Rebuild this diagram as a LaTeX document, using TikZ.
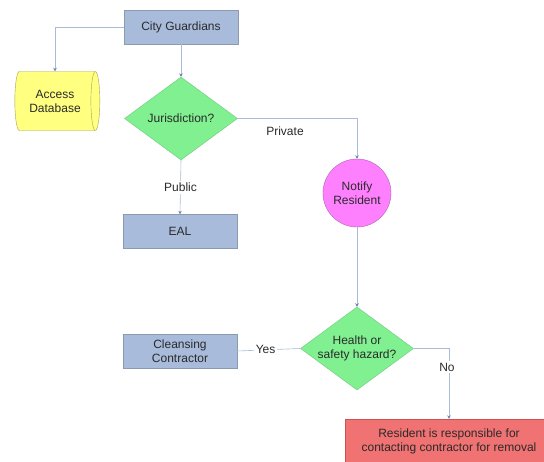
\documentclass[tikz,border=0pt]{standalone}
\usepackage{fontspec}
\setmainfont{Liberation Sans}
\usetikzlibrary{shapes.geometric,arrows.meta}
\definecolor{boxblue}{HTML}{A8BBDB}
\definecolor{boxblueline}{HTML}{8C9AAE}
\definecolor{dbyellow}{HTML}{FFFF80}
\definecolor{dbline}{HTML}{A8A060}
\definecolor{decgreen}{HTML}{80F090}
\definecolor{decline}{HTML}{70C880}
\definecolor{notifyfill}{HTML}{FF80FF}
\definecolor{notifyline}{HTML}{B060B0}
\definecolor{redfill}{HTML}{F07272}
\definecolor{redline}{HTML}{D05050}
\definecolor{conn}{HTML}{A8BCD8}
\definecolor{tipc}{HTML}{6A82B0}
\definecolor{txt}{HTML}{2A2A2A}
\tikzset{
  base/.style={font=\fontsize{12}{14}\selectfont, text=txt, align=center, inner sep=0pt},
  procbox/.style={base, draw=boxblueline, fill=boxblue, minimum width=114pt, minimum height=34pt},
  decision/.style={base, diamond, shape aspect=1.36, draw=decline, fill=decgreen, minimum width=113pt, minimum height=83pt},
  dbase/.style={base, cylinder, draw=dbline, fill=dbyellow, shape aspect=0.4, minimum height=85pt, minimum width=59pt},
  event/.style={base, circle, draw=notifyline, fill=notifyfill, minimum size=68pt},
  endbox/.style={base, draw=redline, fill=redfill, minimum width=208pt, minimum height=44pt},
  conn/.style={draw=conn, line width=0.6pt},
  arr/.style={conn, -{Stealth[length=3.5pt,width=3.5pt,color=tipc]}},
  lbl/.style={font=\fontsize{12}{14}\selectfont, text=txt, fill=white, inner sep=2pt}
}
\begin{document}
\begin{tikzpicture}[x=1pt,y=-1pt]
\path[use as bounding box] (0,0) rectangle (544,461);
\clip (0,0) rectangle (544,461);
\fill[white] (0,0) rectangle (544,461);
\node[procbox] (city) at (181,27) {City Guardians};
\node[dbase] (db) at (55,101) {Access\\Database};
\node[decision] (jur) at (181,118.5) {Jurisdiction?};
\node[event] (notify) at (357,193) {Notify\\Resident};
\node[procbox] (eal) at (180,231.5) {EAL};
\node[decision] (health) at (357,348.5) {Health or\\safety hazard?};
\node[procbox] (clean) at (180,351) {Cleansing\\Contractor};
\node[endbox] (resp) at (449,441) {Resident is responsible for\\contacting contractor for removal};
\draw[arr] (city.west) -| (db.north);
\draw[arr] (city.south) -- (jur.north);
\draw[arr] (jur.east) -| (notify.north);
\node[lbl] (private) at (285,131) {Private};
\draw[arr] (jur.south) -- (eal.north) node[lbl, pos=0.5] (public) {Public};
\draw[arr] (notify.south) -- (health.north);
\draw[conn] (health.west) -- (clean.east) node[lbl, pos=0.55] (yes) {Yes};
\draw[arr] (health.east) -| (resp.north);
\node[lbl] (no) at (447,367) {No};
\end{tikzpicture}
\end{document}
